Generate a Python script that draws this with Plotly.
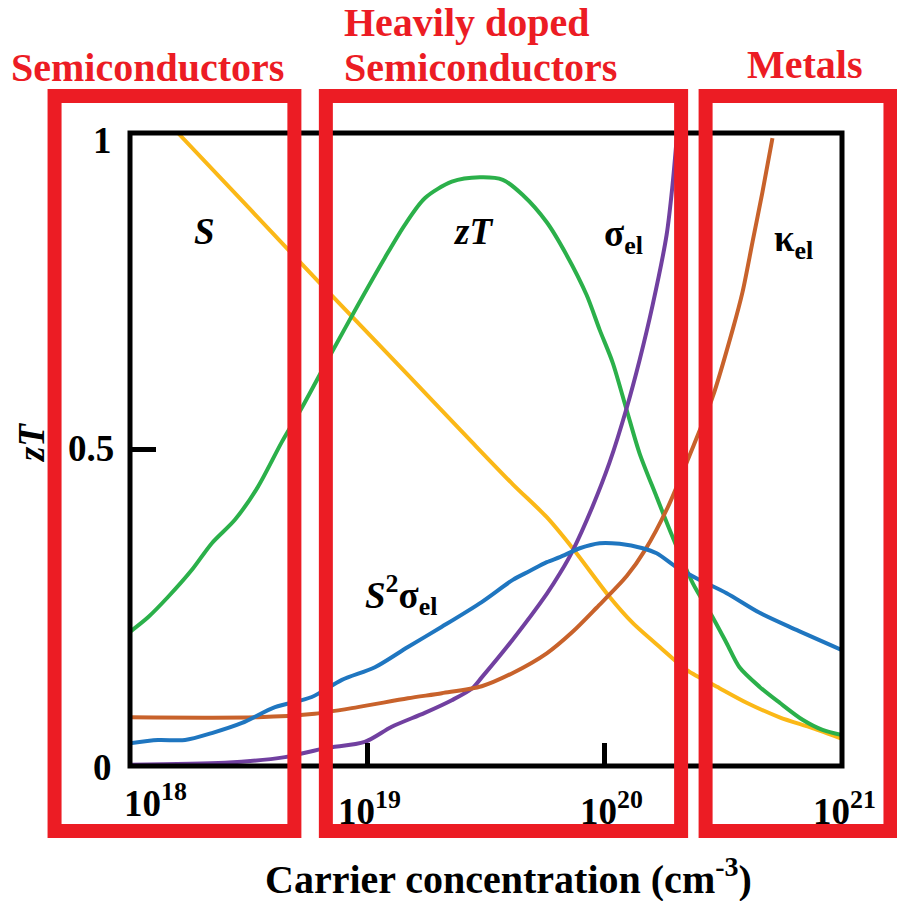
import plotly.graph_objects as go

# ---------------- data (x = log10 of carrier concentration in cm^-3) ----------------
S_logn = [18.202, 18.505, 18.792, 19.171, 19.440, 19.613, 19.756, 19.865, 20.021, 20.118,
          20.232, 20.345, 20.484, 20.598, 20.737, 20.876, 21.0]
S_val = [1.0, 0.880, 0.766, 0.618, 0.512, 0.445, 0.393, 0.344, 0.267, 0.226,
         0.188, 0.152, 0.123, 0.100, 0.077, 0.060, 0.043]

zT_logn = [18.0, 18.076, 18.160, 18.261, 18.345, 18.442, 18.539, 18.640, 18.724, 18.851,
           18.960, 19.074, 19.158, 19.242, 19.356, 19.474, 19.571, 19.655, 19.756, 19.840,
           19.924, 19.979, 20.034, 20.093, 20.147, 20.219, 20.286, 20.371, 20.455, 20.514,
           20.568, 20.653, 20.737, 20.834, 20.918, 21.0]
zT_val = [0.212, 0.235, 0.267, 0.310, 0.352, 0.389, 0.441, 0.512, 0.566, 0.654,
          0.728, 0.803, 0.855, 0.897, 0.923, 0.930, 0.926, 0.902, 0.859, 0.807,
          0.744, 0.689, 0.637, 0.562, 0.494, 0.425, 0.362, 0.289, 0.235, 0.194,
          0.156, 0.125, 0.100, 0.073, 0.057, 0.049]

sigma_logn = [18.0, 18.4, 18.653, 18.821, 18.989, 19.103, 19.242, 19.356, 19.440, 19.482,
              19.613, 19.756, 19.811, 19.865, 19.949, 20.021, 20.093, 20.147, 20.202, 20.261,
              20.286, 20.303]
sigma_val = [0.002, 0.005, 0.014, 0.028, 0.038, 0.062, 0.084, 0.104, 0.122, 0.140,
             0.200, 0.272, 0.304, 0.340, 0.410, 0.480, 0.566, 0.641, 0.728, 0.839,
             0.918, 0.989]

kappa_logn = [18.0, 18.539, 18.766, 18.960, 19.171, 19.314, 19.482, 19.613, 19.756, 19.865,
              19.966, 20.093, 20.170, 20.265, 20.358, 20.455, 20.539, 20.581, 20.623, 20.665,
              20.707]
kappa_val = [0.077, 0.077, 0.082, 0.093, 0.107, 0.115, 0.126, 0.147, 0.178, 0.212,
             0.250, 0.300, 0.341, 0.408, 0.491, 0.583, 0.689, 0.749, 0.828, 0.907,
             0.992]

pf_logn = [18.0, 18.118, 18.232, 18.345, 18.472, 18.611, 18.766, 18.893, 19.032, 19.171,
           19.314, 19.482, 19.613, 19.684, 19.756, 19.811, 19.895, 19.979, 20.063, 20.160,
           20.219, 20.303, 20.400, 20.514, 20.653, 20.808, 21.0]
pf_val = [0.036, 0.041, 0.041, 0.052, 0.068, 0.093, 0.109, 0.136, 0.156, 0.188,
          0.220, 0.259, 0.294, 0.308, 0.322, 0.330, 0.344, 0.352, 0.351, 0.344,
          0.336, 0.314, 0.294, 0.273, 0.242, 0.215, 0.183]

x_tick_exps = [18, 19, 20, 21]
x_tick_labels = ["10<sup>18</sup>", "10<sup>19</sup>", "10<sup>20</sup>", "10<sup>21</sup>"]
x_inner_ticks = [1e19, 1e20]
y_tick_vals = [0, 0.5, 1]
y_tick_labels = ["0", "0.5", "1"]
region_titles = ["Semiconductors", "Heavily doped", "Semiconductors", "Metals"]
curve_labels = ["<i>S</i>", "<i>zT</i>", "σ<sub>el</sub>", "κ<sub>el</sub>",
                "<i>S</i><sup>2</sup>σ<sub>el</sub>"]

# ---------------- layout geometry ----------------
W, H = 897, 901
L, R, T, B = 130, 54.5, 133, 135
PW, PH = W - L - R, H - T - B
FONT = "Liberation Serif, Times New Roman, serif"
RED = "#EC1C24"


def px(x):
    return (x - L) / PW


def py(y):
    return (H - B - y) / PH


fig = go.Figure()

series = [
    (S_logn, S_val, "#FBB817", "S"),
    (zT_logn, zT_val, "#2BB04A", "zT"),
    (sigma_logn, sigma_val, "#7140A0", "σel"),
    (kappa_logn, kappa_val, "#C8622B", "κel"),
    (pf_logn, pf_val, "#1F76C0", "S²σel"),
]
for xs, ys, col, name in series:
    fig.add_trace(go.Scatter(
        x=[10 ** v for v in xs], y=ys, mode="lines", name=name,
        line=dict(color=col, width=4, shape="spline", smoothing=0.8),
        showlegend=False, hoverinfo="skip"))

fig.update_xaxes(type="log", range=[18, 21], showgrid=False, zeroline=False,
                 showline=False, showticklabels=False, ticks="inside",
                 tickvals=x_inner_ticks, ticklen=23, tickwidth=5, tickcolor="black")
fig.update_yaxes(range=[0, 1], showgrid=False, zeroline=False, showline=False,
                 showticklabels=False, ticks="inside", tickvals=[0.5],
                 ticklen=26, tickwidth=5, tickcolor="black")

shapes = [dict(type="rect", xref="paper", yref="paper", x0=0, x1=1, y0=0, y1=1,
               line=dict(color="black", width=5), layer="above")]
boxes = [(54.5, 294.5), (326, 681.5), (706, 891)]
for x0, x1 in boxes:
    shapes.append(dict(type="rect", xref="paper", yref="paper",
                       x0=px(x0), x1=px(x1), y0=py(831), y1=py(96),
                       line=dict(color=RED, width=14), layer="above"))

ann = []
# x tick labels
xl_pos = [(155.5, 800), (370, 808), (612, 808), (845, 808)]
for lab, (cx, cy) in zip(x_tick_labels, xl_pos):
    ann.append(dict(text=f"<b>{lab}</b>", xref="paper", yref="paper", x=px(cx), y=py(cy),
                    xanchor="center", yanchor="middle", showarrow=False,
                    font=dict(family=FONT, size=37, color="black")))
# y tick labels
yl_pos = [(102, 767), (91, 448), (102, 140)]
for lab, (cx, cy) in zip(y_tick_labels, yl_pos):
    ann.append(dict(text=f"<b>{lab}</b>", xref="paper", yref="paper", x=px(cx), y=py(cy),
                    xanchor="center", yanchor="middle", showarrow=False,
                    font=dict(family=FONT, size=37, color="black")))
# axis titles
ann.append(dict(text="<b><i>zT</i></b>", xref="paper", yref="paper", x=px(31), y=py(443),
                xanchor="center", yanchor="middle", textangle=-90, showarrow=False,
                font=dict(family=FONT, size=37, color="black")))
ann.append(dict(text="<b>Carrier concentration (cm<sup>-3</sup>)</b>", xref="paper",
                yref="paper", x=px(509), y=py(876), xanchor="center", yanchor="middle",
                showarrow=False, font=dict(family=FONT, size=40, color="black")))
# region titles
rt_pos = [(148, 67, "center"), (342, 22, "left"), (342, 67, "left"), (805, 64, "center")]
for lab, (cx, cy, anc) in zip(region_titles, rt_pos):
    ann.append(dict(text=f"<b>{lab}</b>", xref="paper", yref="paper", x=px(cx), y=py(cy),
                    xanchor=anc, yanchor="middle", showarrow=False,
                    font=dict(family=FONT, size=40, color=RED)))
# curve labels
cl_pos = [(205, 232), (473, 232), (624, 236), (794, 241), (401, 595)]
for lab, (cx, cy) in zip(curve_labels, cl_pos):
    ann.append(dict(text=f"<b>{lab}</b>", xref="paper", yref="paper", x=px(cx), y=py(cy),
                    xanchor="center", yanchor="middle", showarrow=False,
                    font=dict(family=FONT, size=37, color="black")))

fig.update_layout(width=W, height=H, margin=dict(l=L, r=R, t=T, b=B, pad=0),
                  paper_bgcolor="white", plot_bgcolor="white",
                  shapes=shapes, annotations=ann, showlegend=False)

fig.write_html("out.html")
